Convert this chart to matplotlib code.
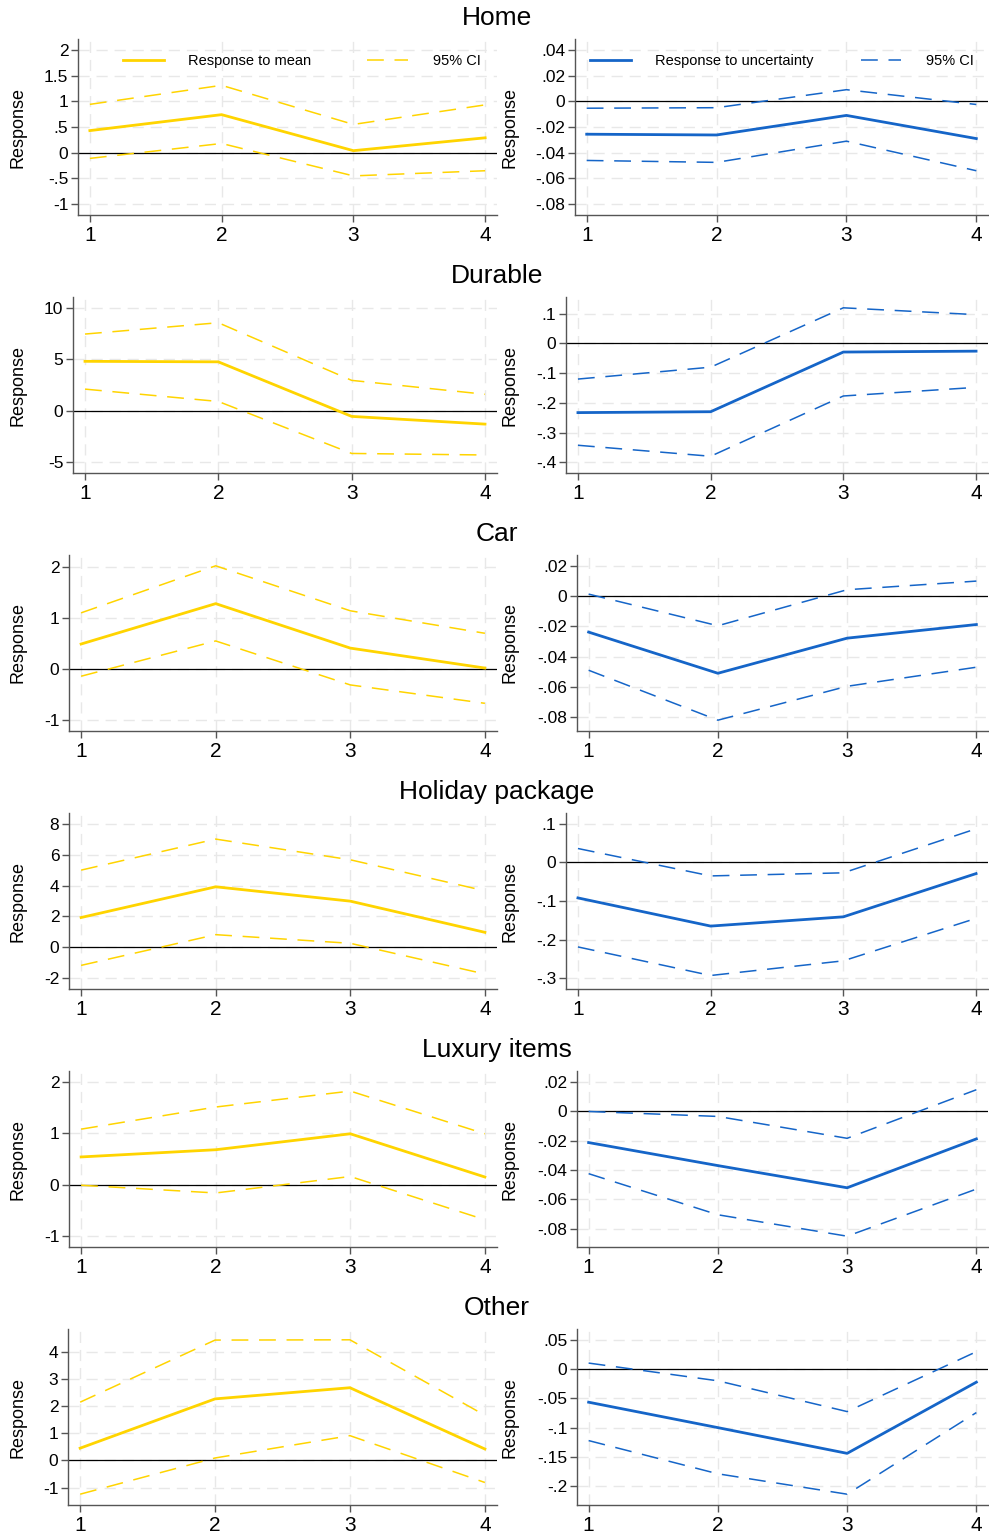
import numpy as np
import matplotlib
matplotlib.use("Agg")
import matplotlib.pyplot as plt
import matplotlib.transforms as mtransforms
from matplotlib.lines import Line2D
from matplotlib.ticker import FuncFormatter

plt.rcParams['font.family'] = ['Liberation Sans', 'DejaVu Sans']

# ===============================
# Data
# ===============================
categories = ["Home", "Durable", "Car", "Holiday package", "Luxury items", "Other"]
horizon = [1, 2, 3, 4]

# response to mean (left column)
mean_resp = [
    [0.43, 0.74, 0.04, 0.29],
    [4.80, 4.75, -0.55, -1.30],
    [0.49, 1.28, 0.41, 0.02],
    [1.93, 3.92, 2.99, 0.97],
    [0.54, 0.68, 0.99, 0.15],
    [0.45, 2.26, 2.67, 0.42],
]
mean_hi = [
    [0.94, 1.31, 0.55, 0.93],
    [7.45, 8.55, 2.95, 1.60],
    [1.10, 2.02, 1.14, 0.70],
    [5.00, 7.01, 5.67, 3.66],
    [1.08, 1.51, 1.82, 0.99],
    [2.14, 4.42, 4.43, 1.66],
]
mean_lo = [
    [-0.11, 0.18, -0.45, -0.35],
    [2.10, 0.90, -4.15, -4.30],
    [-0.14, 0.55, -0.31, -0.67],
    [-1.17, 0.82, 0.26, -1.73],
    [-0.01, -0.16, 0.16, -0.68],
    [-1.24, 0.09, 0.91, -0.81],
]

# response to uncertainty (right column)
unc_resp = [
    [-0.0256, -0.0262, -0.0110, -0.0290],
    [-0.233, -0.230, -0.029, -0.026],
    [-0.0238, -0.0510, -0.0278, -0.0188],
    [-0.092, -0.165, -0.141, -0.029],
    [-0.0214, -0.0371, -0.0522, -0.0189],
    [-0.0565, -0.0999, -0.1438, -0.0223],
]
unc_hi = [
    [-0.0054, -0.0050, 0.0090, -0.0025],
    [-0.120, -0.080, 0.120, 0.097],
    [0.0013, -0.0196, 0.0042, 0.0099],
    [0.036, -0.035, -0.027, 0.087],
    [-0.0002, -0.0036, -0.0185, 0.0146],
    [0.0103, -0.0200, -0.0725, 0.0297],
]
unc_lo = [
    [-0.0460, -0.0475, -0.0310, -0.0540],
    [-0.343, -0.380, -0.177, -0.148],
    [-0.0490, -0.0820, -0.0596, -0.0470],
    [-0.219, -0.293, -0.255, -0.145],
    [-0.0426, -0.0706, -0.0852, -0.0531],
    [-0.1220, -0.1787, -0.2135, -0.0742],
]

mean_ticks = [
    [-1, -0.5, 0, 0.5, 1, 1.5, 2],
    [-5, 0, 5, 10],
    [-1, 0, 1, 2],
    [-2, 0, 2, 4, 6, 8],
    [-1, 0, 1, 2],
    [-1, 0, 1, 2, 3, 4],
]
unc_ticks = [
    [-0.08, -0.06, -0.04, -0.02, 0, 0.02, 0.04],
    [-0.4, -0.3, -0.2, -0.1, 0, 0.1],
    [-0.08, -0.06, -0.04, -0.02, 0, 0.02],
    [-0.3, -0.2, -0.1, 0, 0.1],
    [-0.08, -0.06, -0.04, -0.02, 0, 0.02],
    [-0.2, -0.15, -0.1, -0.05, 0, 0.05],
]

YELLOW = '#FFD400'
BLUE = '#1565C8'
AXCOL = '#555555'
CI_DASH = (11, 7)


def stata_fmt(v, pos):
    s = f"{round(v, 4) + 0.0:.4f}".rstrip('0').rstrip('.')
    if s.startswith("0."):
        s = s[1:]
    elif s.startswith("-0."):
        s = "-" + s[2:]
    return s


# ===============================
# Figure / layout (pixel based)
# ===============================
W, H = 989, 1536
fig = plt.figure(figsize=(W / 100, H / 100), dpi=100)

left_l = [78, 73, 69, 69, 69, 68]
left_r = [575, 566, 577, 566, 577, 577]
right_l, right_r = 497, 988
row_top0, row_step, ax_h = 39, 258, 176


def make_axes(x0, x1, top):
    return fig.add_axes([x0 / W, 1 - (top + ax_h) / H, (x1 - x0) / W, ax_h / H])


def draw_panel(ax, resp, lo, hi, ticks, color, label_x):
    ax.set_axisbelow(True)
    ax.grid(True, color='#E8E8E8', linestyle=(0, (8, 5)), linewidth=1.0)
    ax.axhline(0, color='black', linewidth=0.9, zorder=2)
    ax.plot(horizon, resp, color=color, linewidth=2.0, zorder=4)
    ax.plot(horizon, hi, color=color, linewidth=1.1, dashes=CI_DASH, zorder=3)
    ax.plot(horizon, lo, color=color, linewidth=1.1, dashes=CI_DASH, zorder=3)

    # axis range: union of ticks and data, padded like Stata
    lo_v = min(min(ticks), min(lo))
    hi_v = max(max(ticks), max(hi))
    pad = 0.07 * (hi_v - lo_v)
    ax.set_ylim(lo_v - pad, hi_v + pad)
    ax.set_xlim(0.91, 4.09)
    ax.set_xticks(horizon)
    ax.set_yticks(ticks)
    ax.yaxis.set_major_formatter(FuncFormatter(stata_fmt))

    for s in ['top', 'right']:
        ax.spines[s].set_visible(False)
    for s in ['left', 'bottom']:
        ax.spines[s].set_color(AXCOL)
        ax.spines[s].set_linewidth(1.0)
    ax.tick_params(direction='out', length=5, width=1, color=AXCOL)
    ax.tick_params(axis='x', labelsize=15, pad=3)
    ax.tick_params(axis='y', labelsize=12.5, pad=2)

    ax.set_ylabel("Response", fontsize=13)
    trans = mtransforms.blended_transform_factory(fig.transFigure, ax.transAxes)
    ax.yaxis.set_label_coords(label_x / W, 0.5, transform=trans)


for i, cat in enumerate(categories):
    top = row_top0 + i * row_step
    axL = make_axes(left_l[i], right_l, top)
    axR = make_axes(left_r[i], right_r, top)

    draw_panel(axL, mean_resp[i], mean_lo[i], mean_hi[i], mean_ticks[i], YELLOW, 27)
    draw_panel(axR, unc_resp[i], unc_lo[i], unc_hi[i], unc_ticks[i], BLUE, 519)

    fig.text(497 / W, 1 - (top - 21) / H, cat, fontsize=19,
             ha='center', va='center')

    if i == 0:
        for ax, col, lab, x0, cs in [(axL, YELLOW, "Response to mean", 0.107, 3.8),
                                     (axR, BLUE, "Response to uncertainty", 0.036, 3.2)]:
            handles = [Line2D([], [], color=col, linewidth=2.0),
                       Line2D([], [], color=col, linewidth=1.1, dashes=CI_DASH)]
            ax.legend(handles, [lab, "95% CI"], ncol=2, loc='center left',
                      bbox_to_anchor=(x0, 0.875), frameon=False,
                      fontsize=10.5, handlelength=2.8, handletextpad=1.7,
                      columnspacing=cs, borderaxespad=0, borderpad=0)

fig.savefig("out.png", dpi=100)
